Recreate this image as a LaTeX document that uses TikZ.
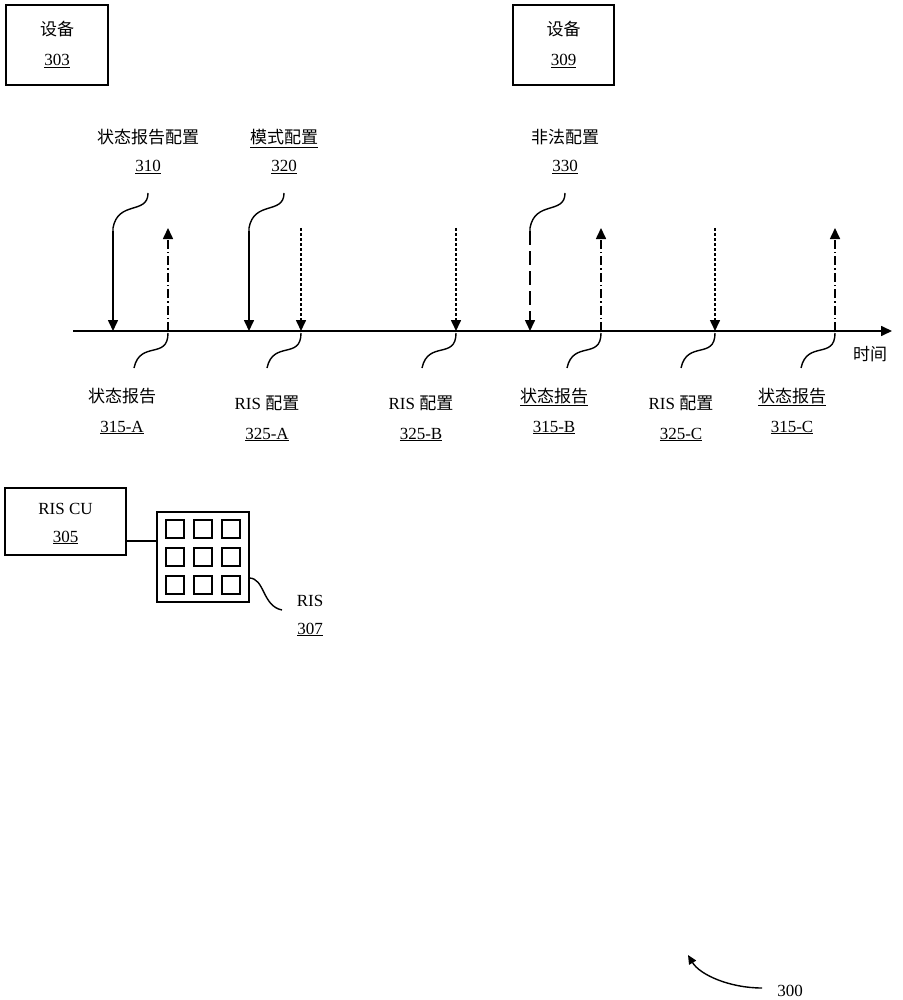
\documentclass[tikz,border=0pt]{standalone}
\usepackage{fontspec}
\setmainfont{Liberation Serif}
\newfontfamily\cjk{Noto Sans CJK SC}
\usetikzlibrary{arrows.meta}
\begin{document}
\begin{tikzpicture}[x=1pt,y=-1pt,
  lbl/.style={font=\fontsize{17}{20}\selectfont,inner sep=0pt,anchor=base},
  bx/.style={draw,line width=1.6pt},
  ax/.style={line width=1.6pt,-{Triangle[length=11pt,width=10pt]}},
  sq/.style={line width=1.4pt},
  dd/.style={dash pattern=on 9pt off 3pt on 1.5pt off 3pt},
  dt/.style={dash pattern=on 3pt off 2pt},
  dsh/.style={dash pattern=on 14pt off 6pt}]
\useasboundingbox (0,0) rectangle (902,1000);
% boxes
\node[bx,minimum width=102pt,minimum height=80pt] (d303) at (57,45) {};
\node[lbl] (t303a) at (57,36) {\cjk 设备};
\node[lbl] (t303b) at (57,66) {\underline{303}};
\node[bx,minimum width=101pt,minimum height=80pt] (d309) at (563.5,45) {};
\node[lbl] (t309a) at (563.5,36) {\cjk 设备};
\node[lbl] (t309b) at (563.5,66) {\underline{309}};
% timeline
\coordinate (tl0) at (73,331);
\coordinate (tl1) at (892,331);
\draw[ax] (tl0) -- (tl1);
\node[lbl] (time) at (870,360) {\cjk 时间};
% top labels
\node[lbl] (l310a) at (148,144) {\cjk 状态报告配置};
\node[lbl] (l310b) at (148,172) {\underline{310}};
\node[lbl] (l320a) at (284,144) {\underline{\cjk 模式配置}};
\node[lbl] (l320b) at (284,172) {\underline{320}};
\node[lbl] (l330a) at (565,144) {\cjk 非法配置};
\node[lbl] (l330b) at (565,172) {\underline{330}};
% top squiggles and arrows
\foreach \x/\st [count=\i] in {113/solid,249/solid,530/dsh}{
  \coordinate (ts\i) at (\x+35,193);
  \coordinate (tb\i) at (\x,231);
  \coordinate (te\i) at (\x,331);
  \draw[sq] (ts\i) .. controls (\x+35,215) and (\x+5,200) .. (\x,228) -- (tb\i);
  \draw[ax,\st] (tb\i) -- (te\i);
}
% dotted down
\foreach \x [count=\i] in {301,456,715}{
  \coordinate (ds\i) at (\x,228);
  \coordinate (de\i) at (\x,331);
  \draw[ax,dt] (ds\i) -- (de\i);
}
% dash-dot up
\foreach \x [count=\i] in {168,601,835}{
  \coordinate (us\i) at (\x,331);
  \coordinate (ue\i) at (\x,228);
  \draw[ax,dd] (us\i) -- (ue\i);
}
% bottom squiggles
\foreach \x [count=\i] in {168,301,456,601,715,835}{
  \coordinate (bs\i) at (\x,333);
  \coordinate (be\i) at (\x-34,368);
  \draw[sq] (bs\i) .. controls (\x,360) and (\x-28,340) .. (be\i);
}
% bottom labels
\node[lbl] (b1a) at (122,402) {\cjk 状态报告};
\node[lbl] (b1b) at (122,432) {\underline{315-A}};
\node[lbl] (b2a) at (267,409) {RIS {\cjk 配置}};
\node[lbl] (b2b) at (267,439) {\underline{325-A}};
\node[lbl] (b3a) at (421,409) {RIS {\cjk 配置}};
\node[lbl] (b3b) at (421,439) {\underline{325-B}};
\node[lbl] (b4a) at (554,402) {\underline{\cjk 状态报告}};
\node[lbl] (b4b) at (554,432) {\underline{315-B}};
\node[lbl] (b5a) at (681,409) {RIS {\cjk 配置}};
\node[lbl] (b5b) at (681,439) {\underline{325-C}};
\node[lbl] (b6a) at (792,402) {\underline{\cjk 状态报告}};
\node[lbl] (b6b) at (792,432) {\underline{315-C}};
% RIS CU
\node[bx,minimum width=121pt,minimum height=67pt] (cu) at (65.5,521.5) {};
\node[lbl] (cua) at (65.5,514) {RIS CU};
\node[lbl] (cub) at (65.5,542) {\underline{305}};
\node[bx,minimum width=92pt,minimum height=90pt] (ris) at (203,557) {};
\draw[line width=1.6pt] (cu.east |- 0,541) -- (ris.west |- 0,541);
\foreach \cx in {175,203,231}\foreach \cy in {529,557,585}{
  \draw[line width=1.6pt] (\cx-9,\cy-9) rectangle (\cx+9,\cy+9);
}
\coordinate (rs) at (249,578);
\coordinate (re) at (282,610);
\draw[sq] (rs) .. controls (265,578) and (262,606) .. (re);
\node[lbl] (r307a) at (310,606) {RIS};
\node[lbl] (r307b) at (310,634) {\underline{307}};
% 300
\node[lbl] (n300) at (790,996) {300};
\coordinate (c300) at (762,988);
\coordinate (c300e) at (688,955);
\draw[line width=1.4pt,-{Triangle[length=9pt,width=8pt]}] (c300) .. controls (730,988) and (700,975) .. (c300e);
\end{tikzpicture}
\end{document}
